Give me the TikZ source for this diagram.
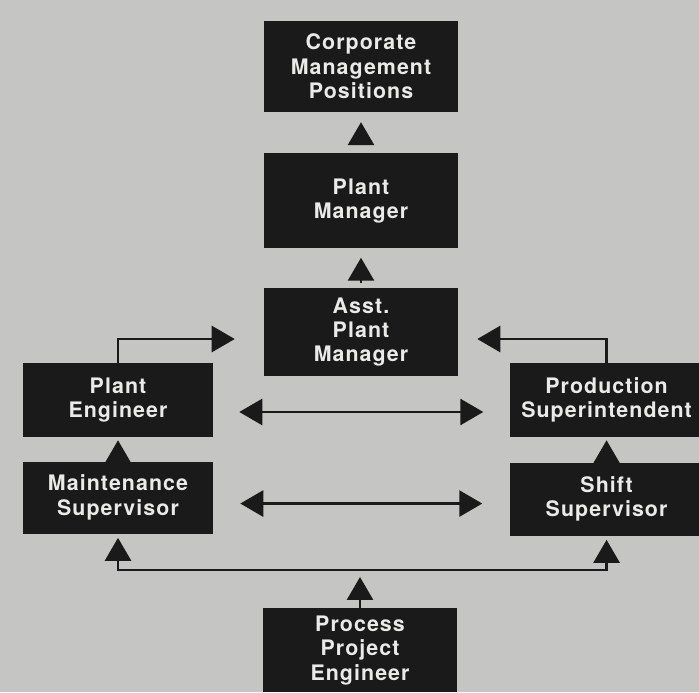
\documentclass[tikz,border=0pt]{standalone}
\usepackage{fontspec}
\usepackage{tikz}
\usetikzlibrary{arrows.meta,positioning,calc}
\newfontfamily\boxfont{TeX Gyre Heros}[LetterSpace=5]
\definecolor{paper}{RGB}{197,197,195}
\definecolor{ink}{RGB}{26,26,26}
\definecolor{txt}{RGB}{234,234,232}

\begin{document}
\begin{tikzpicture}[
  every node/.style={font=\boxfont\bfseries\fontsize{15.2pt}{17.4pt}\selectfont},
  box/.style={rectangle, fill=ink, text=txt, inner sep=1pt,
              minimum width=4.85cm, align=center},
  tip/.style={-{Triangle[length=0.575cm, width=0.65cm]}, line width=0.07cm, draw=ink},
  dbl/.style={{Triangle[length=0.575cm, width=0.65cm]}-{Triangle[length=0.575cm, width=0.65cm]},
              line width=0.07cm, draw=ink}
]
  \fill[paper] (0,0) rectangle (17.475,17.3);
  \clip (0,0) rectangle (17.475,17.3);
  % middle column
  \node[box, minimum height=2.275cm] (corp) at (9.025,15.64) {Corporate\\Management\\Positions};
  \node[box, minimum height=2.375cm, below=1.025cm of corp] (pm) {Plant\\Manager};
  \node[box, minimum height=2.2cm, below=0.975cm of pm] (apm) {Asst.\\Plant\\Manager};
  % sides
  \node[box, minimum width=4.75cm, minimum height=1.85cm] (pe) at (2.95,7.3) {Plant\\Engineer};
  \node[box, minimum width=4.75cm, minimum height=1.8cm, below=0.6cm of pe] (ms) {Maintenance\\Supervisor};
  \node[box, minimum width=4.85cm, minimum height=1.85cm, right=7.4cm of pe] (ps) {Production\\Superintendent};
  \node[box, minimum width=4.85cm, minimum height=1.825cm, below=0.625cm of ps] (ss) {Shift\\Supervisor};
  \node[box, minimum height=2.1cm, anchor=north] (ppe) at (9.0,2.1) {Process\\Project\\Engineer};
  \coordinate (bus) at (9.0,3.05);
  % arrows
  \draw[tip, shorten <=0.2cm, shorten >=0.25cm] (pm) -- (corp);
  \draw[tip, shorten <=0.125cm, shorten >=0.225cm] (apm) -- (pm);
  \draw[tip, shorten <=0.025cm, shorten >=0.075cm] (ms.north) -- (pe.south);
  \draw[tip, shorten <=0.025cm, shorten >=0.075cm] (ss.north) -- (ps.south);
  \draw[tip] (pe.north) |- ([xshift=-0.725cm, yshift=-0.175cm]apm.west);
  \draw[tip] (ps.north) |- ([xshift=0.475cm, yshift=-0.175cm]apm.east);
  \draw[dbl, shorten <=0.65cm, shorten >=0.65cm] ([yshift=-0.3cm]pe.east) -- ([yshift=-0.3cm]pe.east -| ps.west);
  \draw[dbl, shorten <=0.675cm, shorten >=0.675cm] ([yshift=-0.15cm]ms.east) -- ([yshift=-0.15cm]ms.east -| ss.west);
  \draw[dbl, shorten <=0.1cm, shorten >=0.1cm] (ms.south) |- (bus) -| (ss.south);
  \draw[tip, shorten >=0.175cm] (ppe.north) -- (bus);
\end{tikzpicture}
\end{document}
